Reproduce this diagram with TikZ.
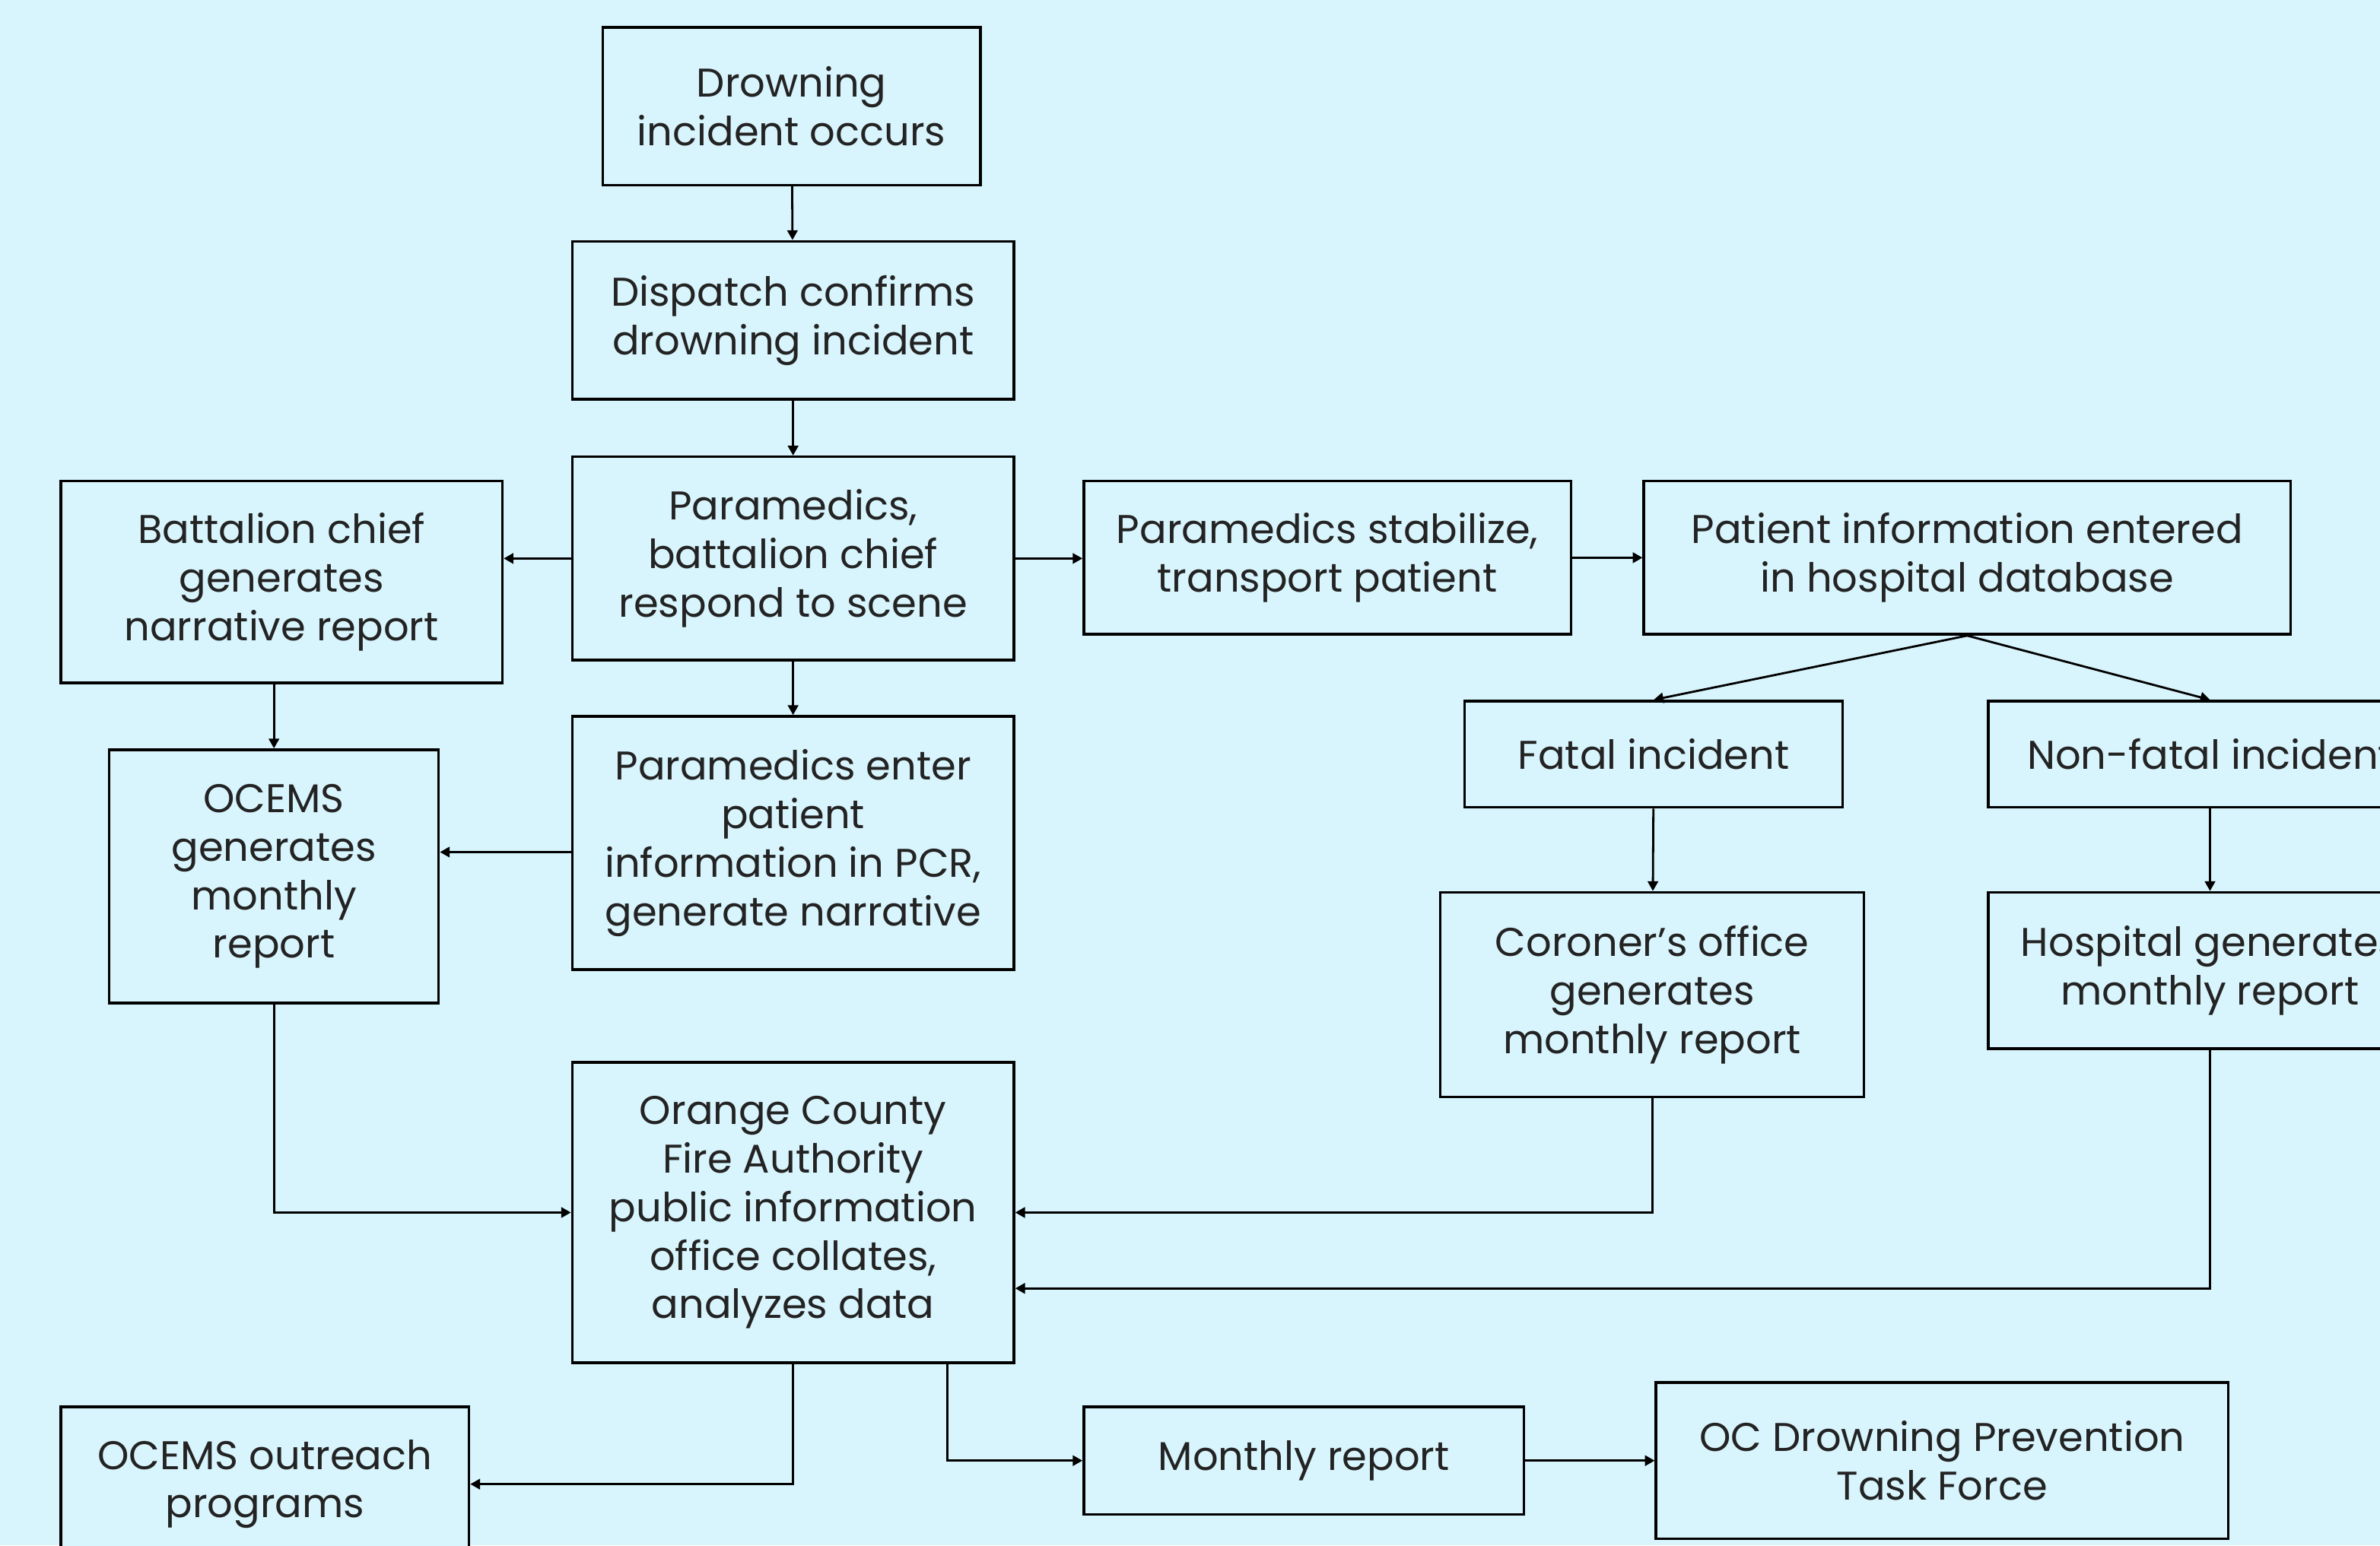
\documentclass[tikz,border=0pt]{standalone}
\usepackage{fontspec}
\setmainfont{Poppins}
\usetikzlibrary{arrows.meta}
\definecolor{bg}{RGB}{216,244,252}
\definecolor{ink}{RGB}{35,35,35}
\begin{document}
\begin{tikzpicture}[x=0.5pt,y=-0.5pt,
  box/.style={draw=black,fill=bg,line width=0.85pt,align=center,inner sep=0pt,
    text=ink,font=\fontsize{13.2}{16}\selectfont},
  conn/.style={draw=black,line width=0.7pt,-{Triangle[length=3.2pt,width=3.4pt]}}]
\fill[bg] (0,0) rectangle (1568,1018.3);
\useasboundingbox (0,0) rectangle (1568,1018.3);
\node[box,minimum width=124.5pt,minimum height=52pt] (A) at (521.5,70) {Drowning\\incident occurs};
\node[box,minimum width=145.5pt,minimum height=52pt] (B) at (522.5,211) {Dispatch confirms\\drowning incident};
\node[box,minimum width=145.5pt,minimum height=67pt] (C) at (522.5,368) {Paramedics,\\battalion chief\\respond to scene};
\node[box,minimum width=145.5pt,minimum height=66.5pt] (D) at (185.5,383.5) {Battalion chief\\generates\\narrative report};
\node[box,minimum width=160.5pt,minimum height=50.5pt] (E) at (874.5,367.5) {Paramedics stabilize,\\transport patient};
\node[box,minimum width=213pt,minimum height=50.5pt] (F) at (1296,367.5) {Patient information entered\\in hospital database};
\node[box,minimum width=124.5pt,minimum height=35pt] (G) at (1089.5,497) {Fatal incident};
\node[box,minimum width=146pt,minimum height=35pt] (H) at (1456,497) {Non-fatal incident};
\node[box,minimum width=145.5pt,minimum height=83.5pt] (I) at (522.5,555.5) {Paramedics enter\\patient\\information in PCR,\\generate narrative};
\node[box,minimum width=108.5pt,minimum height=83.5pt] (J) at (180.5,577.5) {OCEMS\\generates\\monthly\\report};
\node[box,minimum width=139.5pt,minimum height=67.5pt] (K) at (1088.5,655.5) {Coroner’s office\\generates\\monthly report};
\node[box,minimum width=146pt,minimum height=51.5pt] (L) at (1456,639.5) {Hospital generates\\monthly report};
\node[box,minimum width=145.5pt,minimum height=99pt] (M) at (522.5,799) {Orange County\\Fire Authority\\public information\\office collates,\\analyzes data};
\node[box,minimum width=134.5pt,minimum height=51pt] (N) at (174.5,978) {OCEMS outreach\\programs};
\node[box,minimum width=145pt,minimum height=35.5pt] (O) at (859,962.5) {Monthly report};
\node[box,minimum width=188.5pt,minimum height=51.5pt] (P) at (1279.5,962.5) {OC Drowning Prevention\\Task Force};
\draw[conn] (A) -- (B);
\draw[conn] (B) -- (C);
\draw[conn] (C.west) -- (C.west -| D.east);
\draw[conn] (C.east) -- (C.east -| E.west);
\draw[conn] (E) -- (F);
\draw[conn] (F.south) -- (G.north);
\draw[conn] (F.south) -- (H.north);
\draw[conn] (C) -- (I);
\draw[conn] (D.south -| J.north) -- (J.north);
\draw[conn] ([yshift=-3pt]I.west) -- ([yshift=-3pt]I.west -| J.east);
\draw[conn] (G) -- (K);
\draw[conn] (H) -- (L);
\draw[conn] (J.south) |- (M.west);
\draw[conn] (K.south) |- (M.east);
\draw[conn] (L.south) |- ([yshift=-25pt]M.east);
\draw[conn] (M.south) |- (N.east);
\draw[conn] ([xshift=50.75pt]M.south) |- (O.west);
\draw[conn] (O) -- (P);
\end{tikzpicture}
\end{document}
